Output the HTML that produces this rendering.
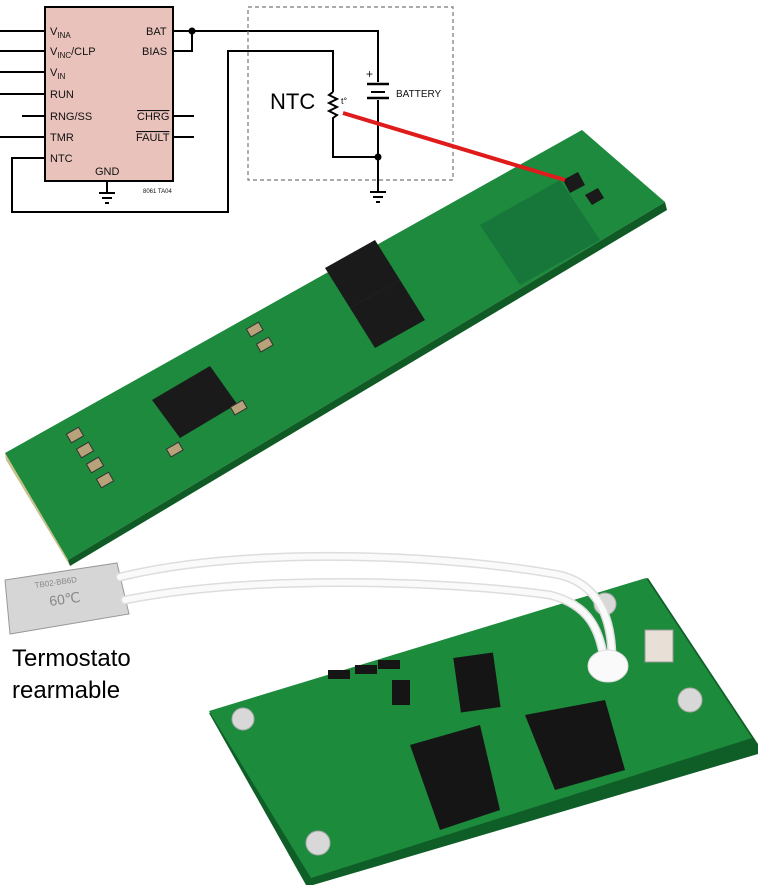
<!DOCTYPE html>
<html><head><meta charset="utf-8"><style>
html,body{margin:0;padding:0;background:#fff;width:758px;height:888px;overflow:hidden}
svg{display:block}
text{font-family:"Liberation Sans",sans-serif}
</style></head><body>
<svg width="758" height="888" viewBox="0 0 758 888" xmlns="http://www.w3.org/2000/svg">
<!-- schematic -->
<g stroke="#000" stroke-width="2" fill="none">
<rect x="45" y="7" width="128" height="174" fill="#e9c3bb"/>
<line x1="0" y1="31" x2="45" y2="31"/><line x1="0" y1="51" x2="45" y2="51"/>
<line x1="0" y1="72" x2="45" y2="72"/><line x1="0" y1="94" x2="45" y2="94"/>
<line x1="22" y1="116" x2="45" y2="116"/><line x1="0" y1="137" x2="45" y2="137"/>
<polyline points="45,158 12,158 12,212 228,212 228,51 333,51 333,92"/>
<polyline points="173,31 378,31 378,82"/>
<polyline points="173,51 192,51 192,31"/>
<line x1="173" y1="116" x2="194" y2="116"/><line x1="173" y1="137" x2="194" y2="137"/>
<polyline points="333,92 329,95 337,99 329,103 337,107 329,111 337,115 333,118 333,157 378,157"/>
<line x1="378" y1="100" x2="378" y2="192"/>
<line x1="367" y1="84" x2="389" y2="84" stroke-width="2.5"/>
<line x1="371" y1="92" x2="385" y2="92"/>
<line x1="367" y1="98" x2="389" y2="98" stroke-width="2.5"/>
<line x1="107" y1="181" x2="107" y2="193"/>
<line x1="99" y1="193" x2="115" y2="193"/><line x1="102" y1="198" x2="112" y2="198"/><line x1="105" y1="203" x2="109" y2="203"/>
<line x1="370" y1="192" x2="386" y2="192"/><line x1="373" y1="197" x2="383" y2="197"/><line x1="376" y1="202" x2="380" y2="202"/>
<rect x="248" y="7" width="205" height="173" stroke="#777" stroke-width="1.2" stroke-dasharray="4,3"/>
</g>
<circle cx="192" cy="31" r="3.5"/><circle cx="378" cy="157" r="3.5"/>
<g font-size="11" fill="#111">
<text x="50" y="35">V<tspan font-size="8" dy="3">INA</tspan></text>
<text x="50" y="55">V<tspan font-size="8" dy="3">INC</tspan><tspan dy="-3">/CLP</tspan></text>
<text x="50" y="76">V<tspan font-size="8" dy="3">IN</tspan></text>
<text x="50" y="98">RUN</text><text x="50" y="120">RNG/SS</text>
<text x="50" y="141">TMR</text><text x="50" y="162">NTC</text>
<text x="95" y="175">GND</text>
<text x="146" y="35">BAT</text><text x="142" y="55">BIAS</text>
<text x="137" y="120" text-decoration="overline">CHRG</text>
<text x="136" y="141" text-decoration="overline">FAULT</text>
<text x="143" y="193" font-size="6">8061 TA04</text>
<text x="396" y="97" font-size="10">BATTERY</text>
<text x="366" y="78" font-size="12">+</text>
<text x="341" y="104" font-size="9">t°</text>
</g>
<text x="270" y="109" font-size="22" fill="#000">NTC</text>
<!-- top board -->
<polygon points="5,453 582,130 665,202 68,560" fill="#1d8a3d"/>
<polygon points="5,453 68,560 70,566 6,460" fill="#c9c08a"/>
<polygon points="68,560 665,202 667,210 70,566" fill="#0f5a25"/>
<polygon points="480,225 560,180 600,240 520,285" fill="#17773a"/>
<g fill="#1a1a1a">
<polygon points="325,268 375,240 400,280 350,308"/>
<polygon points="350,308 400,280 425,320 375,348"/>
<polygon points="152,400 210,366 237,404 180,438"/>
<polygon points="563,180 578,172 585,185 570,193"/>
<polygon points="585,195 598,188 604,198 592,205"/>
</g>
<g fill="#b8a27a" stroke="#333" stroke-width="1">
<rect x="68" y="430" width="14" height="10" transform="rotate(-30 75 435)"/>
<rect x="78" y="445" width="14" height="10" transform="rotate(-30 85 450)"/>
<rect x="88" y="460" width="14" height="10" transform="rotate(-30 95 465)"/>
<rect x="98" y="475" width="14" height="10" transform="rotate(-30 105 480)"/>
<rect x="248" y="325" width="14" height="9" transform="rotate(-30 255 330)"/>
<rect x="258" y="340" width="14" height="9" transform="rotate(-30 265 345)"/>
<rect x="232" y="403" width="14" height="9" transform="rotate(-30 239 408)"/>
<rect x="168" y="445" width="14" height="9" transform="rotate(-30 175 450)"/>
</g>
<line x1="343" y1="113" x2="565" y2="180" stroke="#e01b1b" stroke-width="4"/>
<!-- bottom board -->
<polygon points="209,713 648,578 758,744 758,754 313,885 306,885" fill="#0f5e28"/>
<polygon points="209,711 646,578 752,738 311,878" fill="#1d8b3c"/>
<g fill="#d8d8d8" stroke="#aaa"><circle cx="243" cy="719" r="11"/><circle cx="605" cy="604" r="11"/><circle cx="690" cy="700" r="12"/><circle cx="318" cy="843" r="12"/></g>
<g fill="#151515">
<polygon points="410,745 480,725 500,810 440,830"/>
<polygon points="525,715 605,700 625,770 555,790"/>
<rect x="457" y="655" width="40" height="55" transform="rotate(-8 477 683)"/>
<rect x="392" y="680" width="18" height="25"/>
<rect x="328" y="670" width="22" height="9"/><rect x="355" y="665" width="22" height="9"/><rect x="378" y="660" width="22" height="9"/>
</g>
<rect x="645" y="630" width="28" height="32" fill="#e8e0d6" stroke="#999"/>
<!-- thermostat -->
<polygon points="5,580 117,563 129,614 10,634" fill="#d6d6d6" stroke="#999"/>
<g font-size="8" fill="#888"><text x="35" y="588" transform="rotate(-8 35 588)">TB02-BB6D</text><text x="50" y="606" font-size="14" transform="rotate(-8 50 606)">60℃</text></g>
<g fill="none" stroke="#ddd" stroke-width="9" stroke-linecap="round">
<path d="M120,577 C250,545 450,555 560,575 C600,585 612,620 612,660"/>
<path d="M125,600 C250,575 440,580 550,595 C590,605 600,630 605,665"/>
</g>
<g fill="none" stroke="#fafafa" stroke-width="6" stroke-linecap="round">
<path d="M120,577 C250,545 450,555 560,575 C600,585 612,620 612,660"/>
<path d="M125,600 C250,575 440,580 550,595 C590,605 600,630 605,665"/>
</g>
<ellipse cx="608" cy="666" rx="20" ry="16" fill="#fafafa" stroke="#ddd"/>
<text x="12" y="666" font-size="24" fill="#000">Termostato</text>
<text x="12" y="698" font-size="24" fill="#000">rearmable</text>
</svg>
</body></html>
